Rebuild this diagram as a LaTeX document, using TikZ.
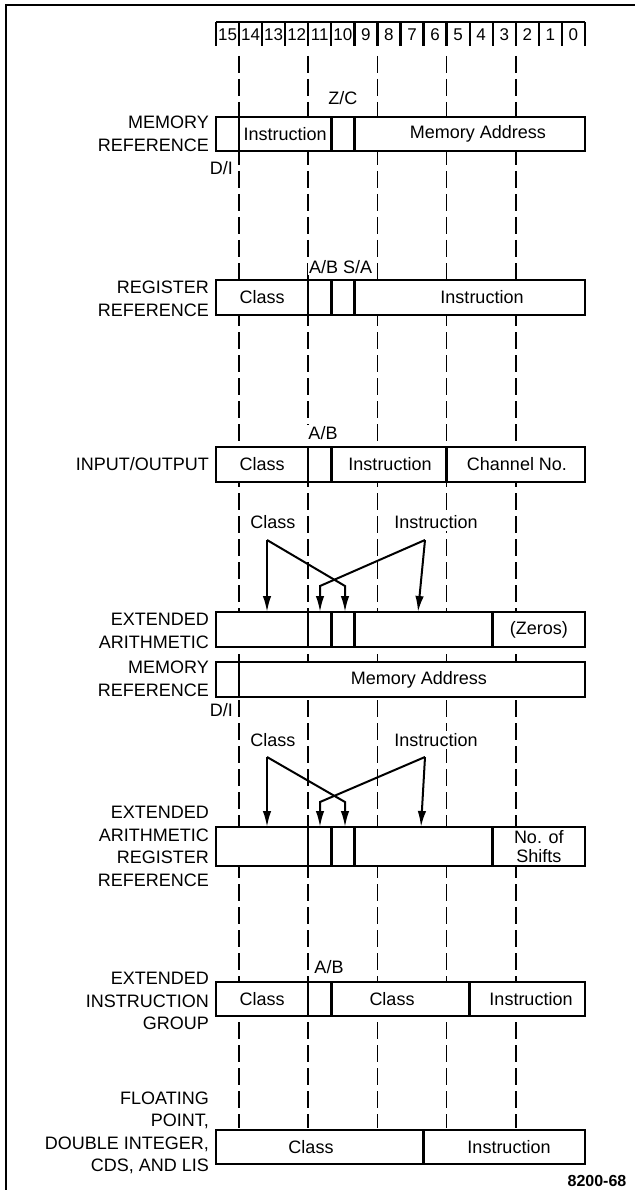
\documentclass[tikz,border=0pt]{standalone}
\usepackage{fontspec}
\setmainfont{Liberation Sans}
\usetikzlibrary{arrows.meta, calc}

% left edge of bit field i (i = 0 .. 16, bit 15 first)
\newcommand{\bitx}[1]{216+#1*23.06}

\tikzset{
  fmt/.style={draw, line width=2.7pt, fill=white},
  divider/.style={line width=2.5pt},
  guide/.style={line width=1.7pt, dash pattern=on 17pt off 6pt},
  digit/.style={inner sep=0pt, font=\fontsize{17}{20}\selectfont},
  rowlabel/.style={anchor=east, align=right, inner sep=0pt, font=\fontsize{18}{22.5}\selectfont},
  field/.style={inner sep=1pt, align=center, font=\fontsize{18}{19}\selectfont},
  tag/.style={fill=white, inner sep=2pt, font=\fontsize{18}{20}\selectfont},
  pointer/.style={line width=2pt, -{Latex[length=16pt,width=8.5pt]}}
}

% a format box from #1 to #2 with dividers at the field edges #3
\newcommand{\fmtrow}[3]{%
  \draw[fmt] ({\bitx{0}},#1) rectangle ({\bitx{16}},#2);
  \foreach \d in {#3} \draw[divider] ({\bitx{\d}},#1) -- ({\bitx{\d}},#2);
}

\begin{document}
\begin{tikzpicture}[x=1pt, y=-1pt]
    \useasboundingbox (0,0) rectangle (635,1190);

    % --- Frame ---
    \draw[line width=2.8pt] (6,1190) -- (6,5) -- (635,5);

    % --- Bit numbers ---
    \draw[line width=2.3pt] ({\bitx{0}},22) -- ({\bitx{16}},22);
    \foreach \i in {0,...,16}
      \draw[line width=2.3pt] ({\bitx{\i}},22) -- ({\bitx{\i}},46);
    \foreach \i in {0,...,15}{
      \pgfmathtruncatemacro{\b}{15-\i}
      \node[digit] (bit\b) at ({\bitx{\i}+11.53},35) {\b};
    }

    % --- Dashed field guides ---
    \foreach \i in {1,4,7,10,13}
      \draw[guide] ({\bitx{\i}},56) -- ({\bitx{\i}},1128);

    % --- Memory reference ---
    \fmtrow{117}{151}{1,5,6}
    \node[field] (mrInstr) at ({\bitx{3}},134) {Instruction};
    \node[field] (mrAddr) at (478,134) {Memory Address};
    \node[tag] (mrZC) at ({\bitx{5.5}},98) {Z/C};
    \node[tag, anchor=east, inner sep=1pt] (mrDI) at (234,168) {D/I};
    \node[rowlabel] (mrLabel) at (209,134) {MEMORY\\REFERENCE};

    % --- Register reference ---
    \fmtrow{280}{315}{4,5,6}
    \node[field] (rrClass) at ({\bitx{2}},297.5) {Class};
    \node[field] (rrInstr) at (482,297.5) {Instruction};
    \node[tag, anchor=west, inner sep=1pt] (rrAB) at (308,267) {A/B S/A};
    \node[rowlabel] (rrLabel) at (209,299) {REGISTER\\REFERENCE};

    % --- Input/output ---
    \fmtrow{447}{482}{4,5,10}
    \node[field] (ioClass) at ({\bitx{2}},464.5) {Class};
    \node[field] (ioInstr) at (390,464.5) {Instruction};
    \node[field] (ioChan) at (517,464.5) {Channel No.};
    \node[tag, inner sep=1pt] (ioAB) at (323,433) {A/B};
    \node[rowlabel] (ioLabel) at (209,464.5) {INPUT/OUTPUT};

    % --- Extended arithmetic memory reference ---
    \node[tag] (eaClass) at (273,522) {Class};
    \node[tag] (eaInstr) at (436,522) {Instruction};
    \coordinate (eaClassTop) at (267,540);
    \coordinate (eaInstrTop) at (425,540);
    \coordinate (eaClassBend) at (345,586);
    \coordinate (eaInstrBend) at (320,586);
    \fmtrow{612}{647}{4,5,6,12}
    \coordinate (eaClassField) at (267,612);
    \coordinate (eaInstrField) at (418,612);
    \coordinate (eaSAField) at (345,612);
    \coordinate (eaABField) at (320,612);
    \draw[pointer] (eaClassTop) -- (eaClassField);
    \draw[pointer] (eaClassTop) -- (eaClassBend) -- (eaSAField);
    \draw[pointer] (eaInstrTop) -- (eaInstrField);
    \draw[pointer] (eaInstrTop) -- (eaInstrBend) -- (eaABField);
    \node[field] (eaZeros) at ({\bitx{14}},629.5) {(Zeros)};
    \node[rowlabel] (eaLabel) at (209,631) {EXTENDED\\ARITHMETIC};

    \fmtrow{662}{697}{1}
    \node[field] (emAddr) at (419,679.5) {Memory Address};
    \node[tag, anchor=east, inner sep=1pt] (emDI) at (234,710) {D/I};
    \node[rowlabel] (emLabel) at (209,679) {MEMORY\\REFERENCE};

    % --- Extended arithmetic register reference ---
    \node[tag] (erClass) at (273,740) {Class};
    \node[tag] (erInstr) at (436,740) {Instruction};
    \coordinate (erClassTop) at (267,757);
    \coordinate (erInstrTop) at (425,757);
    \coordinate (erClassBend) at (345,802);
    \coordinate (erInstrBend) at (320,802);
    \fmtrow{827}{866}{4,5,6,12}
    \coordinate (erClassField) at (267,827);
    \coordinate (erInstrField) at (421,827);
    \coordinate (erSAField) at (345,827);
    \coordinate (erABField) at (320,827);
    \draw[pointer] (erClassTop) -- (erClassField);
    \draw[pointer] (erClassTop) -- (erClassBend) -- (erSAField);
    \draw[pointer] (erInstrTop) -- (erInstrField);
    \draw[pointer] (erInstrTop) -- (erInstrBend) -- (erABField);
    \node[field] (erShifts) at ({\bitx{14}},846.5) {No. of\\Shifts};
    \node[rowlabel] (erLabel) at (209,846.5) {EXTENDED\\ARITHMETIC\\REGISTER\\REFERENCE};

    % --- Extended instruction group ---
    \fmtrow{982}{1016}{4,5,11}
    \node[field] (eiClass) at ({\bitx{2}},999) {Class};
    \node[field] (eiSub) at (392,999) {Class};
    \node[field] (eiInstr) at (531,999) {Instruction};
    \node[tag, inner sep=1pt] (eiAB) at (329,967) {A/B};
    \node[rowlabel] (eiLabel) at (209,1001) {EXTENDED\\INSTRUCTION\\GROUP};

    % --- Floating point ---
    \fmtrow{1130}{1164}{9}
    \node[field] (fpClass) at (311,1147) {Class};
    \node[field] (fpInstr) at (509,1147) {Instruction};
    \node[rowlabel] (fpLabel) at (209,1133) {FLOATING\\POINT,\\DOUBLE INTEGER,\\CDS, AND LIS};

    \node[inner sep=0pt, font=\fontsize{16}{17}\selectfont\bfseries] (figNo) at (597,1181) {8200-68};
\end{tikzpicture}
\end{document}
